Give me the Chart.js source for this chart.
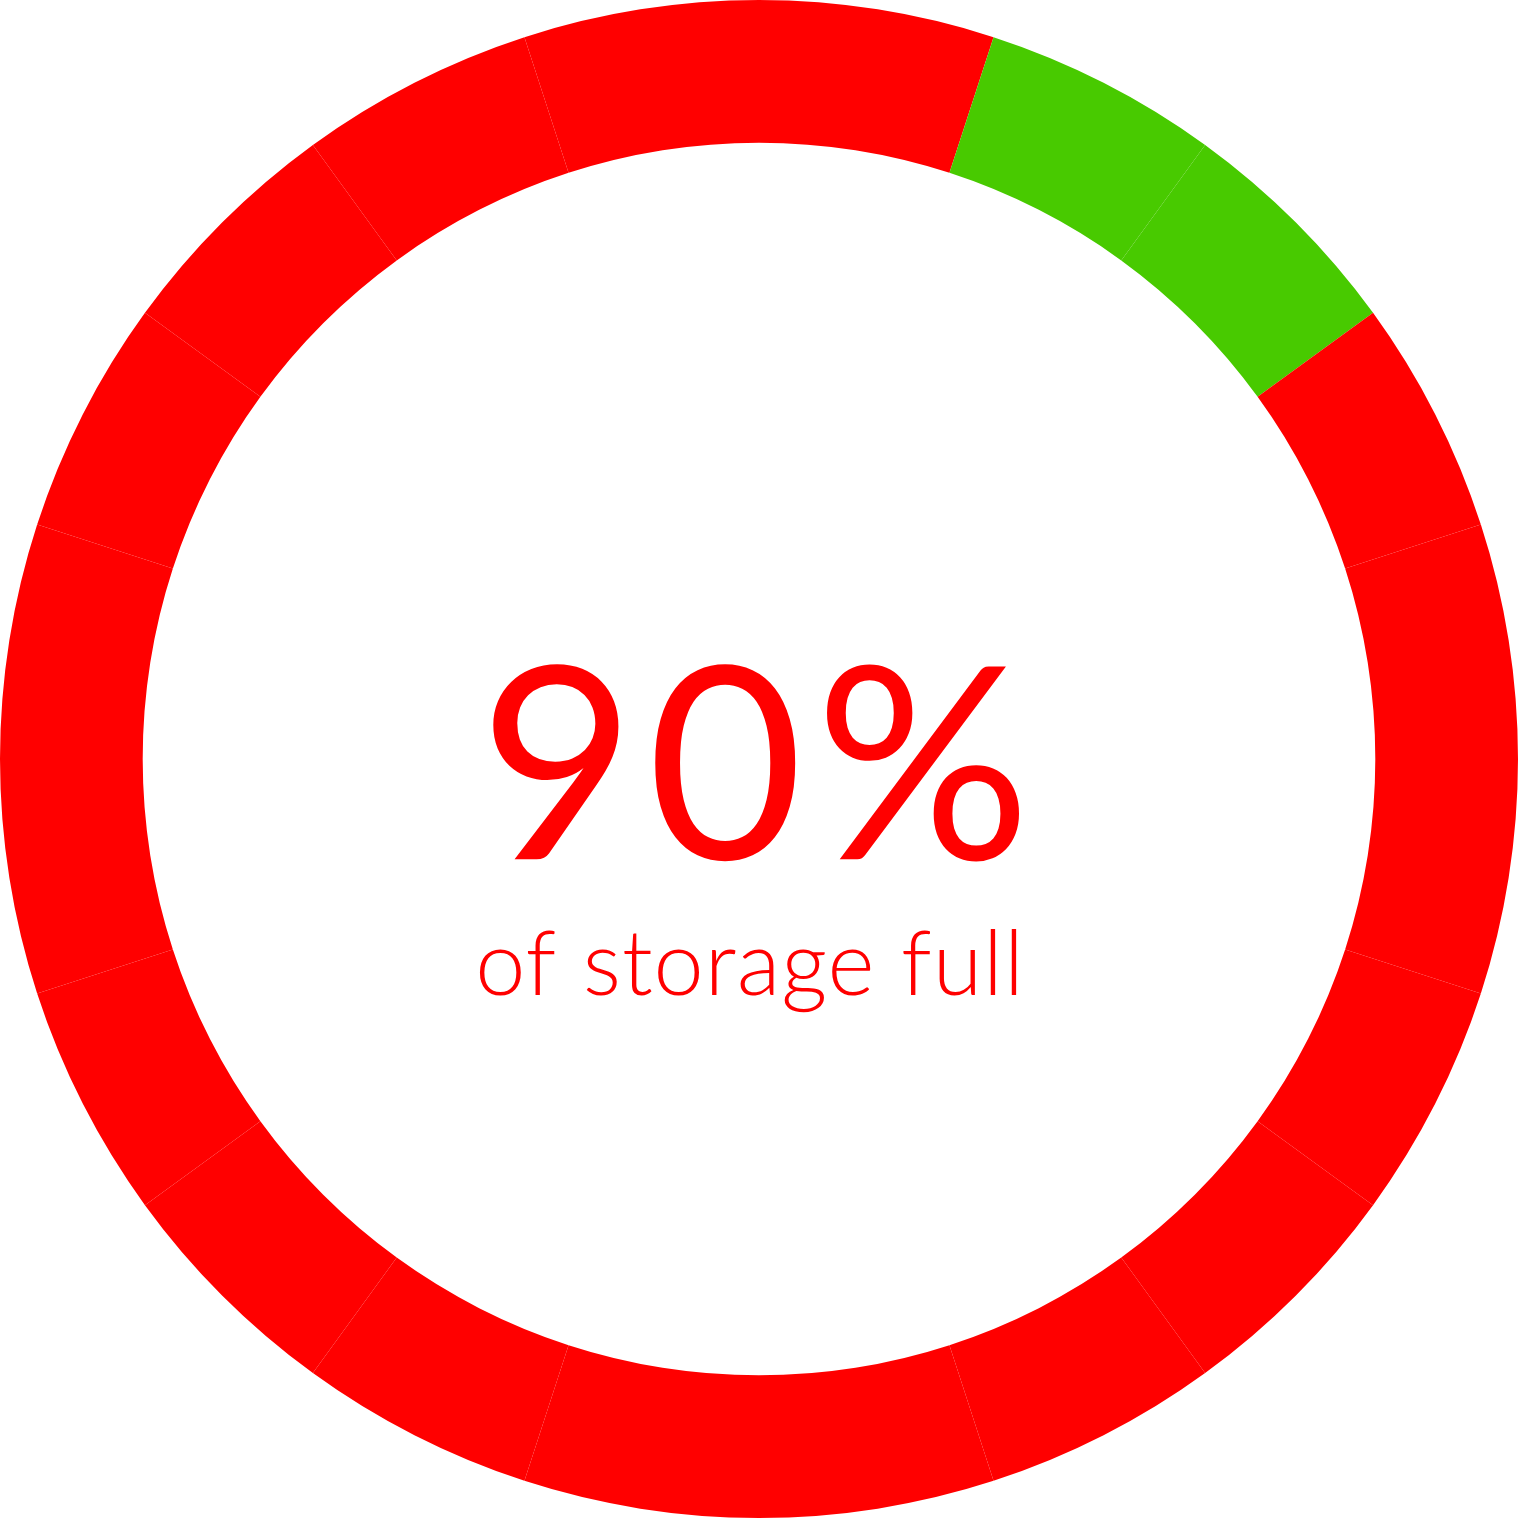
<!DOCTYPE html>
<html>
<head>
<meta charset="utf-8">
<script src="https://cdn.jsdelivr.net/npm/chart.js@4"></script>
<style>
  html, body { margin: 0; padding: 0; background: #ffffff; }
  #wrap { width: 1518px; height: 1518px; position: relative; }
</style>
</head>
<body>
<div id="wrap"><canvas id="c"></canvas></div>
<script>
// Twenty equal ring segments (5% each), two of them free (green)
const segmentLabels = ['S1','S2','S3','S4','S5','S6','S7','S8','S9','S10',
                       'S11','S12','S13','S14','S15','S16','S17','S18','S19','S20'];
const segmentValues = [1,1,1,1,1,1,1,1,1,1,1,1,1,1,1,1,1,1,1,1];
const segmentStatus = ['used','free','free','used','used','used','used','used','used','used',
                       'used','used','used','used','used','used','used','used','used','used'];
const statusColors = { used: '#FF0000', free: '#48CA00' };
const centerValue = '90%';
const centerCaption = 'of storage full';

const centerTextPlugin = {
  id: 'centerText',
  afterDraw(chart) {
    const ctx = chart.ctx;
    const meta = chart.getDatasetMeta(0);
    const arc = meta.data[0];
    const cx = arc.x, cy = arc.y;
    const r = arc.outerRadius;
    ctx.save();
    ctx.fillStyle = '#FF0000';
    ctx.textAlign = 'center';
    ctx.textBaseline = 'alphabetic';
    ctx.font = '400 ' + Math.round(r * 0.355) + 'px Lato';
    if ('letterSpacing' in ctx) ctx.letterSpacing = '12px';
    ctx.fillText(centerValue, cx + 2, cy + r * 0.132);
    ctx.font = '300 ' + Math.round(r * 0.118) + 'px Lato';
    if ('letterSpacing' in ctx) ctx.letterSpacing = '1px';
    ctx.fillText(centerCaption, cx - 9, cy + r * 0.311);
    ctx.restore();
  }
};

new Chart(document.getElementById('c'), {
  type: 'doughnut',
  data: {
    labels: segmentLabels,
    datasets: [{
      data: segmentValues,
      backgroundColor: segmentStatus.map(s => statusColors[s]),
      borderWidth: 0
    }]
  },
  options: {
    responsive: true,
    maintainAspectRatio: false,
    animation: false,
    cutout: '81.2%',
    layout: { padding: 0 },
    plugins: {
      legend: { display: false },
      tooltip: { enabled: false }
    }
  },
  plugins: [centerTextPlugin]
});
</script>
</body>
</html>
